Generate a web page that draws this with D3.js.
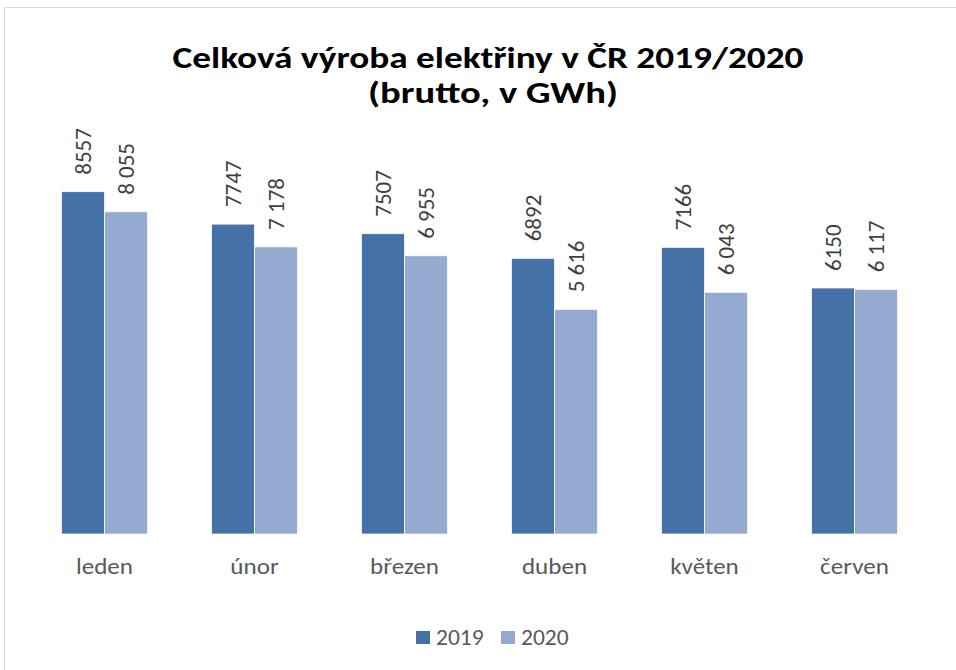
<!doctype html>
<html>
  <head>
    <meta charset="utf-8">
    <title>Celková výroba elektřiny</title>
    <script src="https://cdn.jsdelivr.net/npm/d3@7"></script>
    <style>
      body { margin: 0; background: #fff; }
      text { font-family: Carlito, Lato, sans-serif; }
    </style>
  </head>
  <body>
    <script>
      const months = ['leden', 'únor', 'březen', 'duben', 'květen', 'červen'];
      const years = ['2019', '2020'];
      const values2019 = [8557, 7747, 7507, 6892, 7166, 6150];
      const values2020 = [8055, 7178, 6955, 5616, 6043, 6117];
      const colors = ['#4472a7', '#95aad1'];

      const width = 956, height = 670;

      const svg = d3.select('body').append('svg')
          .attr('width', width)
          .attr('height', height);

      // rámeček grafu
      svg.append('rect')
          .attr('x', 4.5).attr('y', 7.5)
          .attr('width', width + 10).attr('height', height + 10)
          .attr('fill', '#fff')
          .attr('stroke', '#d9d9d9');

      // titulek (Calibri chybí, text se roztáhne na šířku originálu)
      svg.append('text')
          .attr('x', 488).attr('y', 68)
          .attr('text-anchor', 'middle')
          .attr('font-weight', 'bold')
          .attr('font-size', 30)
          .attr('textLength', 631)
          .attr('lengthAdjust', 'spacingAndGlyphs')
          .text('Celková výroba elektřiny v ČR 2019/2020');
      svg.append('text')
          .attr('x', 493).attr('y', 103)
          .attr('text-anchor', 'middle')
          .attr('font-weight', 'bold')
          .attr('font-size', 30)
          .attr('textLength', 250)
          .attr('lengthAdjust', 'spacingAndGlyphs')
          .text('(brutto, v GWh)');

      const x0 = d3.scaleBand()
          .domain(months)
          .range([29.5, 929.5]);

      const x1 = d3.scaleBand()
          .domain(years)
          .range([0, 86]);

      const y = d3.scaleLinear()
          .domain([0, 10000])
          .range([534, 134]);

      const table = months.map((m, i) => ({
        month: m,
        vals: [
          { year: '2019', value: values2019[i] },
          { year: '2020', value: values2020[i] }
        ]
      }));

      const fmt2020 = d3.formatLocale({ decimal: ',', thousands: ' ', grouping: [3], currency: ['', ' Kč'] }).format(',d');
      const fmtLabel = d => d.year === '2019' ? String(d.value) : fmt2020(d.value);

      const groups = svg.selectAll('g.month')
        .data(table)
        .enter().append('g')
          .attr('class', 'month')
          .attr('transform', d => `translate(${x0(d.month) + (x0.bandwidth() - 86) / 2}, 0)`);

      groups.selectAll('rect')
        .data(d => d.vals)
        .enter().append('rect')
          .attr('x', d => x1(d.year))
          .attr('y', d => y(d.value))
          .attr('width', x1.bandwidth())
          .attr('height', d => y(0) - y(d.value))
          .attr('fill', (d, i) => colors[i])
          .attr('stroke', '#fff')
          .attr('stroke-width', 0.75);

      groups.selectAll('text')
        .data(d => d.vals)
        .enter().append('text')
          .attr('transform', d => `translate(${x1(d.year) + x1.bandwidth() / 2}, ${y(d.value) - 17}) rotate(-90)`)
          .attr('dy', '0.36em')
          .attr('font-size', 23)
          .attr('fill', '#404040')
          .text(fmtLabel);

      // popisky kategorií
      svg.append('g')
          .selectAll('text')
          .data(months)
          .enter().append('text')
            .attr('transform', d => `translate(${x0(d) + x0.bandwidth() / 2}, 574) scale(1.14, 1)`)
            .attr('text-anchor', 'middle')
            .attr('font-size', 22)
            .attr('fill', '#595959')
            .text(d => d);

      // legenda
      const legend = svg.append('g');
      const legendX = [416, 501];
      years.forEach((yr, i) => {
        legend.append('rect')
            .attr('x', legendX[i]).attr('y', 631)
            .attr('width', 14).attr('height', 13)
            .attr('fill', colors[i]);
        legend.append('text')
            .attr('transform', `translate(${legendX[i] + 20}, 645) scale(1.07, 1)`)
            .attr('font-size', 22)
            .attr('fill', '#595959')
            .text(yr);
      });
    </script>
  </body>
</html>
